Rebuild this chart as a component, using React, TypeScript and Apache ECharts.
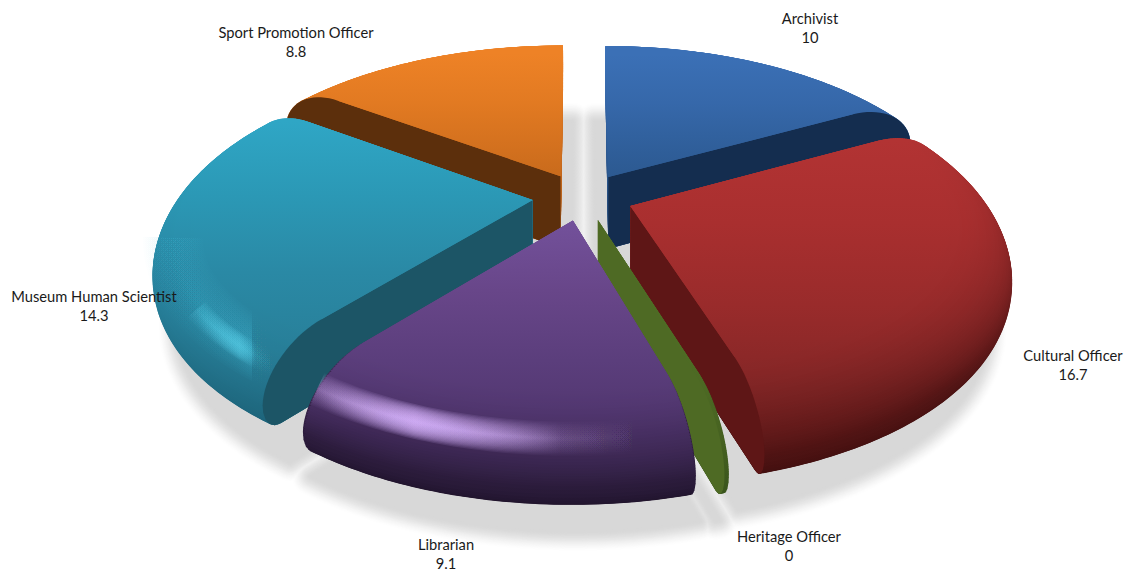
import React, { useEffect, useRef } from "react";
import * as echarts from "echarts";

const CATEGORIES = ["Archivist", "Cultural Officer", "Heritage Officer", "Librarian", "Museum Human Scientist", "Sport Promotion Officer"];
const LABEL_VALUES = ["10", "16.7", "0", "9.1", "14.3", "8.8"];
// Heritage Officer is labelled 0 (rounded) but is drawn as a sliver.
const SLICE_VALUES = [10, 16.7, 0.1, 9.1, 14.3, 8.8];
const PAINT_ORDER = [0, 5, 4, 1, 2, 3];
const LABEL_POS = [[810, 27], [1073, 364], [789, 545], [446, 553], [94, 305], [296, 41]];

const FACE = [
  ["#3b70b6", "#3668aa", "#2f5e99", "#2a5589", "#264e7e"],
  ["#b23333", "#a92f2f", "#992b2b", "#842626", "#6e1d1d"],
  ["#4f6c25", "#4e6b24", "#4e6b24", "#4a6622", "#445e20"],
  ["#73519b", "#684689", "#5b3e7c", "#50356e", "#463060"],
  ["#2fa6c5", "#2b98b5", "#2a89a5", "#28809a", "#26748c"],
  ["#ee8226", "#e27a22", "#d2701e", "#c0661a", "#b05c16"],
];
const EDGE = ["#1c3a66", "#3a0c0c", "#34501a", "#1a0f24", "#1a6076", "#9c4f12"];
const WALL = ["#142d4f", "#5e1616", "#4e6a24", "#3d2a55", "#1c5566", "#5c2f0c"];
const RIM_DARK = [
  [0, 0.1, 0.2, 0.4, 0.5],
  [0.1, 0.55, 0.8, 1, 1],
  [0, 0.2, 0.4, 0.6, 0.8],
  [0.2, 0.4, 0.7, 1, 1],
  [0, 0.05, 0.2, 0.6, 1],
  [0, 0.1, 0.2, 0.3, 0.4],
];
// [slice, start and end as fraction of the slice, shoulder position, rgb, peak alpha, peak offset, widest band]
const GLOWS: [number, number, number, number, string, number, number, number][] = [
  [3, 0.12, 1, 0.44, "216,180,255", 0.16, 0.3, 34],
  [4, 0, 0.5, 0.42, "60,176,205", 0.05, 0.75, 60],
  [4, 0, 0.24, 0.46, "80,196,222", 0.13, 0.55, 24],
];

const CX = 583, CY = 197, RX = 375, KY = 175, D = 7.5, H = 73;
const EXPLODE = 0.135, R0 = 0.8, SHOULDER = 0.66, FOOT = 0.94, LAYERS = 48;
const SHADOW_EXPLODE = 0.07, SHADOW_DROP = 27, GLOW_BANDS = 14;
const SHADOW_LEVELS = [40, 38, 36, 34, 32, 30, 28, 26, 24, 22, 20, 18, 16, 14, 12, 10, 8, 6, 4, 2];

const total = SLICE_VALUES.reduce((a, b) => a + b, 0);
const angles = SLICE_VALUES.map((_, i) => {
  const before = SLICE_VALUES.slice(0, i).reduce((a, b) => a + b, 0);
  return [(before / total) * Math.PI * 2, ((before + SLICE_VALUES[i]) / total) * Math.PI * 2];
});

function project(i: number, r: number, a: number, z: number, explode = EXPLODE) {
  const mid = (angles[i][0] + angles[i][1]) / 2;
  const X = explode * Math.sin(mid) + r * Math.sin(a);
  const Y = -explode * Math.cos(mid) - r * Math.cos(a);
  const s = D / (D - Y);
  return [CX + X * RX * s, CY + (Y * KY + z) * s];
}

function profile(t: number) {
  if (t < 0.8) {
    const q = (t / 0.8) * Math.PI / 2;
    return { r: R0 + (1 - R0) * Math.sin(q), z: H * SHOULDER * (1 - Math.cos(q)) };
  }
  const q = ((t - 0.8) / 0.2) * Math.PI / 2;
  return { r: 1 - (1 - FOOT) * (1 - Math.cos(q)), z: H * SHOULDER + H * (1 - SHOULDER) * Math.sin(q) };
}

function arcPoints(i: number, r: number, z: number, from = 0, to = 1, explode = EXPLODE) {
  const [a0, a1] = angles[i];
  const n = Math.max(2, Math.ceil(((a1 - a0) * (to - from) * 180) / Math.PI));
  const pts: number[][] = [];
  for (let k = 0; k <= n; k++) pts.push(project(i, r, a0 + (a1 - a0) * (from + ((to - from) * k) / n), z, explode));
  return pts;
}

function hex(c: string) {
  return [1, 3, 5].map((p) => parseInt(c.slice(p, p + 2), 16));
}
function mix(a: string, b: string, w: number) {
  const A = hex(a), B = hex(b);
  return "#" + A.map((v, k) => Math.round(v + (B[k] - v) * w).toString(16).padStart(2, "0")).join("");
}

function sliceRange(i: number) {
  const ys = [...arcPoints(i, R0, 0), ...arcPoints(i, 1, H * SHOULDER), ...arcPoints(i, FOOT, H), project(i, 0, 0, 0), project(i, 0, 0, H)].map((p) => p[1]);
  return [Math.min(...ys), Math.max(...ys)];
}

function layerFill(i: number, t: number) {
  const [y0, y1] = sliceRange(i);
  const w = t <= 0 ? 0 : Math.pow(t, 2.2);
  return {
    type: "linear", x: 0, y: y0, x2: 0, y2: y1, global: true,
    colorStops: FACE[i].map((c, k) => ({
      offset: k / 4,
      color: mix(c, EDGE[i], Math.min(1, w * RIM_DARK[i][k])),
    })),
  };
}

function wallPoints(i: number, a: number) {
  const rimPts: number[][] = [];
  for (let k = 0; k <= 24; k++) {
    const { r, z } = profile(k / 24);
    rimPts.push(project(i, r, a, z));
  }
  return [project(i, 0, 0, 0), ...rimPts, project(i, 0, 0, H)];
}

function renderSolid(params: any) {
  const i = PAINT_ORDER[params.dataIndex];
  const [a0, a1] = angles[i];
  const children: any[] = [];
  [a0, a1].forEach((a) => {
    children.push({ type: "polygon", shape: { points: wallPoints(i, a) }, style: { fill: layerFill(i, 0.85) } });
  });
  for (let l = LAYERS; l >= 1; l--) {
    const t = l / LAYERS;
    const { r, z } = profile(t);
    children.push({
      type: "polygon",
      shape: { points: [project(i, 0, 0, z), ...arcPoints(i, r, z)] },
      style: { fill: layerFill(i, t) },
    });
  }
  GLOWS.filter((g) => g[0] === i).forEach(([, from, to, at, rgb, alpha, peak, widest]) => {
    const { r, z } = profile(at);
    const pts = arcPoints(i, r, z, from, to);
    for (let b = 0; b < GLOW_BANDS; b++) {
      children.push({
        type: "polyline",
        shape: { points: pts },
        style: {
          fill: "none", lineWidth: (widest * (GLOW_BANDS - b)) / GLOW_BANDS, lineCap: "butt",
          stroke: {
            type: "linear", x: 0, y: 0, x2: 1, y2: 0,
            colorStops: [
              { offset: 0, color: `rgba(${rgb},${alpha * 0.2})` },
              { offset: peak, color: `rgba(${rgb},${alpha})` },
              { offset: 0.75, color: `rgba(${rgb},${alpha * 0.12})` },
              { offset: 1, color: `rgba(${rgb},0)` },
            ],
          },
        },
      });
    }
  });
  [[a0, -1], [a1, 1]].forEach(([a, side]) => {
    if (side * Math.sin(a) <= 0.01) return;
    children.push({ type: "polygon", shape: { points: wallPoints(i, a) }, style: { fill: WALL[i] } });
  });
  children.push({
    type: "polygon",
    shape: { points: [project(i, 0, 0, 0), ...arcPoints(i, R0, 0)] },
    style: { fill: layerFill(i, 0) },
  });
  return { type: "group", children };
}

function renderShadow(params: any) {
  const w = SHADOW_LEVELS[params.dataIndex];
  const f = 1 - w / (SHADOW_LEVELS[0] + 2);
  const shade = mix("#ffffff", "#d8d8d8", f * f * (3 - 2 * f));
  const z = H + SHADOW_DROP;
  const children = SLICE_VALUES.map((_, i) => ({
    type: "polygon",
    shape: {
      points: [
        project(i, 0.1, angles[i][0], z, SHADOW_EXPLODE),
        ...arcPoints(i, 1, z, 0, 1, SHADOW_EXPLODE),
        project(i, 0.1, angles[i][1], z, SHADOW_EXPLODE),
      ],
    },
    style: { fill: shade, stroke: shade, lineWidth: w, lineJoin: "round" },
  }));
  return { type: "group", children };
}

export default function App() {
  const ref = useRef<HTMLDivElement>(null);
  useEffect(() => {
    const chart = echarts.init(ref.current!, undefined, { renderer: "svg" });
    chart.setOption({
      animation: false,
      backgroundColor: "#ffffff",
      series: [
        {
          type: "custom", coordinateSystem: "none", silent: true, z: 1,
          renderItem: renderShadow,
          data: SHADOW_LEVELS.map((w) => [w]),
        },
        {
          type: "custom", coordinateSystem: "none", silent: true, z: 2,
          renderItem: renderSolid,
          data: PAINT_ORDER.map((i) => [i, SLICE_VALUES[i]]),
        },
      ],
      graphic: CATEGORIES.map((c, i) => ({
        type: "text", x: LABEL_POS[i][0], y: LABEL_POS[i][1], z: 100,
        style: {
          text: `${c}\n${LABEL_VALUES[i]}`, align: "center", verticalAlign: "middle",
          font: "14.7px Lato", lineHeight: 19, fill: "#1a1a1a",
        },
      })),
    });
    return () => chart.dispose();
  }, []);
  return <div ref={ref} style={{ position: "fixed", left: 0, top: 0, width: 1129, height: 573 }} />;
}
